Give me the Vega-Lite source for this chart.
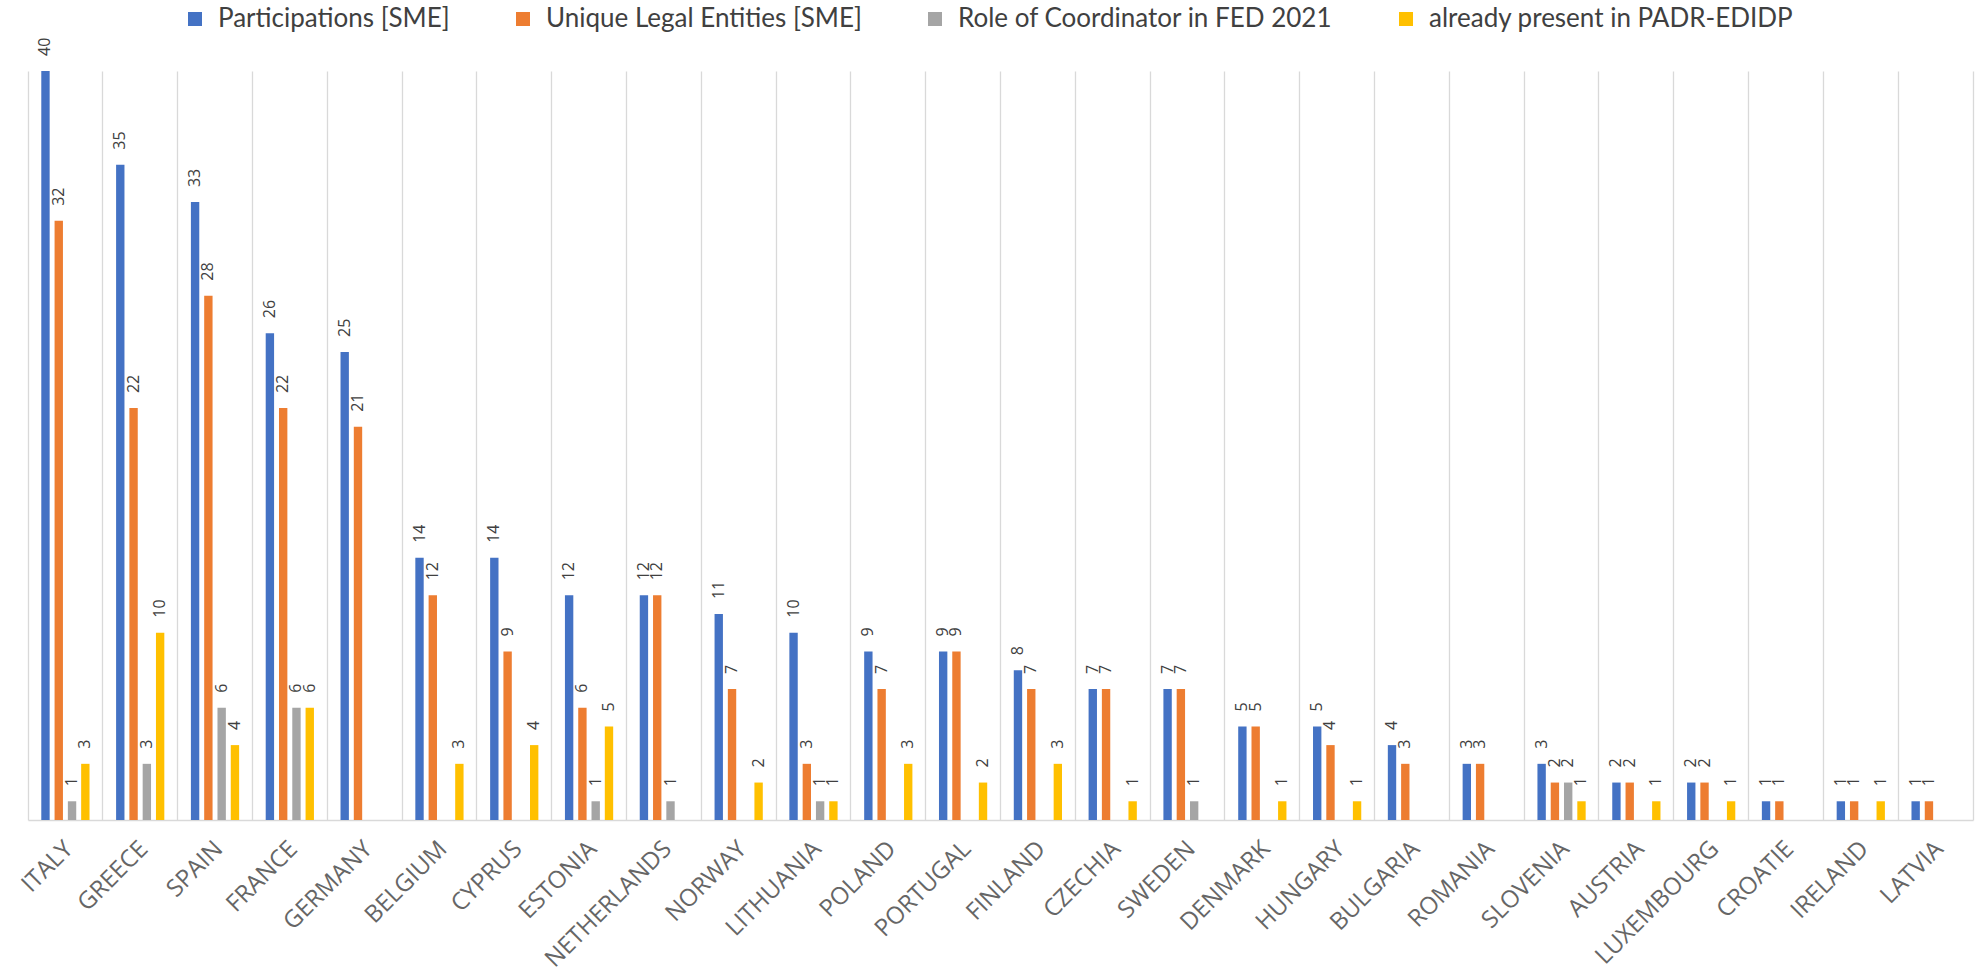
{
  "$schema": "https://vega.github.io/schema/vega-lite/v6.json",
  "autosize": {"type": "none"},
  "width": 1945,
  "height": 749,
  "padding": {"left": 28, "top": 71, "right": 4, "bottom": 148},
  "background": "white",
  "config": {"view": {"stroke": null}},
  "data": {
    "values": [
      {"country": "ITALY", "series": "Participations [SME]", "value": 40},
      {"country": "ITALY", "series": "Unique Legal Entities [SME]", "value": 32},
      {"country": "ITALY", "series": "Role of Coordinator in FED 2021", "value": 1},
      {"country": "ITALY", "series": "already present in PADR-EDIDP", "value": 3},
      {"country": "GREECE", "series": "Participations [SME]", "value": 35},
      {"country": "GREECE", "series": "Unique Legal Entities [SME]", "value": 22},
      {"country": "GREECE", "series": "Role of Coordinator in FED 2021", "value": 3},
      {"country": "GREECE", "series": "already present in PADR-EDIDP", "value": 10},
      {"country": "SPAIN", "series": "Participations [SME]", "value": 33},
      {"country": "SPAIN", "series": "Unique Legal Entities [SME]", "value": 28},
      {"country": "SPAIN", "series": "Role of Coordinator in FED 2021", "value": 6},
      {"country": "SPAIN", "series": "already present in PADR-EDIDP", "value": 4},
      {"country": "FRANCE", "series": "Participations [SME]", "value": 26},
      {"country": "FRANCE", "series": "Unique Legal Entities [SME]", "value": 22},
      {"country": "FRANCE", "series": "Role of Coordinator in FED 2021", "value": 6},
      {"country": "FRANCE", "series": "already present in PADR-EDIDP", "value": 6},
      {"country": "GERMANY", "series": "Participations [SME]", "value": 25},
      {"country": "GERMANY", "series": "Unique Legal Entities [SME]", "value": 21},
      {"country": "BELGIUM", "series": "Participations [SME]", "value": 14},
      {"country": "BELGIUM", "series": "Unique Legal Entities [SME]", "value": 12},
      {"country": "BELGIUM", "series": "already present in PADR-EDIDP", "value": 3},
      {"country": "CYPRUS", "series": "Participations [SME]", "value": 14},
      {"country": "CYPRUS", "series": "Unique Legal Entities [SME]", "value": 9},
      {"country": "CYPRUS", "series": "already present in PADR-EDIDP", "value": 4},
      {"country": "ESTONIA", "series": "Participations [SME]", "value": 12},
      {"country": "ESTONIA", "series": "Unique Legal Entities [SME]", "value": 6},
      {"country": "ESTONIA", "series": "Role of Coordinator in FED 2021", "value": 1},
      {"country": "ESTONIA", "series": "already present in PADR-EDIDP", "value": 5},
      {"country": "NETHERLANDS", "series": "Participations [SME]", "value": 12},
      {"country": "NETHERLANDS", "series": "Unique Legal Entities [SME]", "value": 12},
      {"country": "NETHERLANDS", "series": "Role of Coordinator in FED 2021", "value": 1},
      {"country": "NORWAY", "series": "Participations [SME]", "value": 11},
      {"country": "NORWAY", "series": "Unique Legal Entities [SME]", "value": 7},
      {"country": "NORWAY", "series": "already present in PADR-EDIDP", "value": 2},
      {"country": "LITHUANIA", "series": "Participations [SME]", "value": 10},
      {"country": "LITHUANIA", "series": "Unique Legal Entities [SME]", "value": 3},
      {"country": "LITHUANIA", "series": "Role of Coordinator in FED 2021", "value": 1},
      {"country": "LITHUANIA", "series": "already present in PADR-EDIDP", "value": 1},
      {"country": "POLAND", "series": "Participations [SME]", "value": 9},
      {"country": "POLAND", "series": "Unique Legal Entities [SME]", "value": 7},
      {"country": "POLAND", "series": "already present in PADR-EDIDP", "value": 3},
      {"country": "PORTUGAL", "series": "Participations [SME]", "value": 9},
      {"country": "PORTUGAL", "series": "Unique Legal Entities [SME]", "value": 9},
      {"country": "PORTUGAL", "series": "already present in PADR-EDIDP", "value": 2},
      {"country": "FINLAND", "series": "Participations [SME]", "value": 8},
      {"country": "FINLAND", "series": "Unique Legal Entities [SME]", "value": 7},
      {"country": "FINLAND", "series": "already present in PADR-EDIDP", "value": 3},
      {"country": "CZECHIA", "series": "Participations [SME]", "value": 7},
      {"country": "CZECHIA", "series": "Unique Legal Entities [SME]", "value": 7},
      {"country": "CZECHIA", "series": "already present in PADR-EDIDP", "value": 1},
      {"country": "SWEDEN", "series": "Participations [SME]", "value": 7},
      {"country": "SWEDEN", "series": "Unique Legal Entities [SME]", "value": 7},
      {"country": "SWEDEN", "series": "Role of Coordinator in FED 2021", "value": 1},
      {"country": "DENMARK", "series": "Participations [SME]", "value": 5},
      {"country": "DENMARK", "series": "Unique Legal Entities [SME]", "value": 5},
      {"country": "DENMARK", "series": "already present in PADR-EDIDP", "value": 1},
      {"country": "HUNGARY", "series": "Participations [SME]", "value": 5},
      {"country": "HUNGARY", "series": "Unique Legal Entities [SME]", "value": 4},
      {"country": "HUNGARY", "series": "already present in PADR-EDIDP", "value": 1},
      {"country": "BULGARIA", "series": "Participations [SME]", "value": 4},
      {"country": "BULGARIA", "series": "Unique Legal Entities [SME]", "value": 3},
      {"country": "ROMANIA", "series": "Participations [SME]", "value": 3},
      {"country": "ROMANIA", "series": "Unique Legal Entities [SME]", "value": 3},
      {"country": "SLOVENIA", "series": "Participations [SME]", "value": 3},
      {"country": "SLOVENIA", "series": "Unique Legal Entities [SME]", "value": 2},
      {"country": "SLOVENIA", "series": "Role of Coordinator in FED 2021", "value": 2},
      {"country": "SLOVENIA", "series": "already present in PADR-EDIDP", "value": 1},
      {"country": "AUSTRIA", "series": "Participations [SME]", "value": 2},
      {"country": "AUSTRIA", "series": "Unique Legal Entities [SME]", "value": 2},
      {"country": "AUSTRIA", "series": "already present in PADR-EDIDP", "value": 1},
      {"country": "LUXEMBOURG", "series": "Participations [SME]", "value": 2},
      {"country": "LUXEMBOURG", "series": "Unique Legal Entities [SME]", "value": 2},
      {"country": "LUXEMBOURG", "series": "already present in PADR-EDIDP", "value": 1},
      {"country": "CROATIE", "series": "Participations [SME]", "value": 1},
      {"country": "CROATIE", "series": "Unique Legal Entities [SME]", "value": 1},
      {"country": "IRELAND", "series": "Participations [SME]", "value": 1},
      {"country": "IRELAND", "series": "Unique Legal Entities [SME]", "value": 1},
      {"country": "IRELAND", "series": "already present in PADR-EDIDP", "value": 1},
      {"country": "LATVIA", "series": "Participations [SME]", "value": 1},
      {"country": "LATVIA", "series": "Unique Legal Entities [SME]", "value": 1}
    ]
  },
  "encoding": {
    "x": {
      "field": "country",
      "type": "nominal",
      "sort": null,
      "scale": {"paddingInner": 0, "paddingOuter": 0},
      "axis": {
        "title": null,
        "bandPosition": 0,
        "labelOffset": 4,
        "grid": true,
        "gridColor": "#d9d9d9",
        "gridWidth": 1.3,
        "ticks": false,
        "domainColor": "#d9d9d9",
        "domainWidth": 1.5,
        "labelAngle": -45,
        "labelAlign": "right",
        "labelBaseline": "middle",
        "labelPadding": 25,
        "labelFont": "Open Sans",
        "labelFontSize": 24,
        "labelColor": "#666666"
      }
    },
    "xOffset": {
      "field": "series",
      "type": "nominal",
      "sort": ["Participations [SME]", "Unique Legal Entities [SME]", "Role of Coordinator in FED 2021", "already present in PADR-EDIDP"],
      "scale": {
        "domain": ["Participations [SME]", "Unique Legal Entities [SME]", "Role of Coordinator in FED 2021", "already present in PADR-EDIDP"],
        "paddingInner": 0.37,
        "paddingOuter": 1.13
      }
    },
    "y": {
      "field": "value",
      "type": "quantitative",
      "scale": {"domain": [0, 40], "nice": false},
      "axis": {
        "orient": "right",
        "title": null,
        "labels": false,
        "ticks": false,
        "grid": false,
        "domainColor": "#d9d9d9",
        "domainWidth": 1.3
      }
    }
  },
  "layer": [
    {
      "mark": {"type": "bar"},
      "encoding": {
        "color": {
          "field": "series",
          "type": "nominal",
          "scale": {
            "domain": ["Participations [SME]", "Unique Legal Entities [SME]", "Role of Coordinator in FED 2021", "already present in PADR-EDIDP"],
            "range": ["#4472C4", "#ED7D31", "#A5A5A5", "#FFC000"]
          },
          "legend": {
            "title": null,
            "orient": "none",
            "direction": "horizontal",
            "legendX": 154,
            "legendY": -65,
            "padding": 0,
            "symbolType": "square",
            "symbolSize": 196,
            "symbolStrokeWidth": 0,
            "labelFont": "Lato",
            "labelFontSize": 26,
            "labelColor": "#404040",
            "labelOffset": 10,
            "columnPadding": 60,
            "labelLimit": 600
          }
        }
      }
    },
    {
      "mark": {
        "type": "text",
        "angle": 270,
        "align": "left",
        "baseline": "middle",
        "dx": 15,
        "font": "Open Sans",
        "fontSize": 16,
        "color": "#404040"
      },
      "encoding": {
        "text": {"field": "value", "type": "quantitative"}
      }
    }
  ]
}
